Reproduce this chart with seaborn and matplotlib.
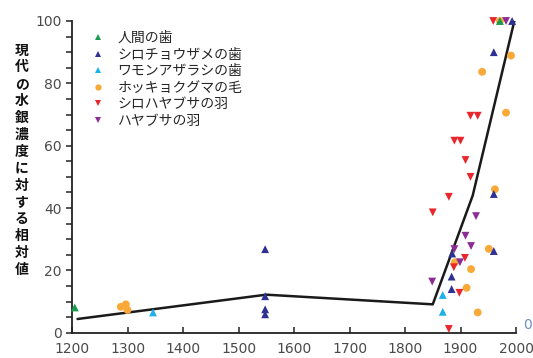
import numpy as np
import pandas as pd
import matplotlib
matplotlib.use("Agg")
import matplotlib.pyplot as plt
from matplotlib.ticker import MultipleLocator
import seaborn as sns

# --- data -------------------------------------------------------------
series_names = ["人間の歯", "シロチョウザメの歯", "ワモンアザラシの歯",
                "ホッキョクグマの毛", "シロハヤブサの羽", "ハヤブサの羽"]

human_year = [1205, 1971]
human_val = [8.1, 100]

sturgeon_year = [1548, 1548, 1548, 1548, 1884, 1884, 1885, 1960, 1960, 1960, 1993]
sturgeon_val = [26.8, 11.7, 7.5, 5.9, 18.0, 14.0, 25.4, 26.2, 44.5, 90.0, 100]

seal_year = [1346, 1868, 1868]
seal_val = [6.5, 12.1, 6.7]

bear_year = [1288, 1297, 1300, 1890, 1911, 1919, 1931, 1939, 1951, 1962, 1971, 1982, 1991]
bear_val = [8.3, 9.1, 7.3, 22.6, 14.4, 20.4, 6.5, 83.7, 26.9, 46.0, 100, 70.6, 88.9]

gyrfalcon_year = [1850, 1879, 1879, 1888, 1889, 1898, 1900, 1908, 1909, 1918, 1918, 1931, 1959]
gyrfalcon_val = [38.6, 43.6, 1.2, 21.0, 61.6, 12.8, 61.6, 24.0, 55.4, 50.0, 69.6, 69.6, 100]

peregrine_year = [1849, 1889, 1899, 1909, 1919, 1928, 1982]
peregrine_val = [16.4, 26.8, 22.6, 31.1, 27.8, 37.4, 100]

trend_year = [1210, 1550, 1850, 1922, 1997]
trend_val = [4.4, 12.2, 9.1, 44.0, 100]

x_ticks = [1200, 1300, 1400, 1500, 1600, 1700, 1800, 1900, 2000]
y_ticks = [0, 20, 40, 60, 80, 100]
y_label = "現代の水銀濃度に対する相対値"

# --- styling ----------------------------------------------------------
colors = ["#1a9a4e", "#2e3192", "#1eb0ea", "#f8a938", "#e9262b", "#8c2c95"]
markers = ["^", "^", "^", "o", "v", "v"]

sns.set_theme(style="white")
plt.rcParams["font.family"] = ["Noto Sans CJK JP", "DejaVu Sans"]

frames = []
for name, xs, ys in zip(series_names,
                        [human_year, sturgeon_year, seal_year, bear_year, gyrfalcon_year, peregrine_year],
                        [human_val, sturgeon_val, seal_val, bear_val, gyrfalcon_val, peregrine_val]):
    frames.append(pd.DataFrame({"year": xs, "value": ys, "series": name}))
# circles go underneath, triangles on top
draw_rank = {"ホッキョクグマの毛": 0}
frames.sort(key=lambda f: draw_rank.get(f["series"].iloc[0], 1))
df = pd.concat(frames, ignore_index=True)
trend = pd.DataFrame({"year": trend_year, "value": trend_val})

fig = plt.figure(figsize=(5.33, 3.58), dpi=100)
ax = fig.add_axes([72 / 533, 1 - 332.7 / 358, (516 - 72) / 533, (332.7 - 21) / 358])

sns.lineplot(data=trend, x="year", y="value", ax=ax, color="#1a1a1a",
             linewidth=1.8, zorder=2, sort=False)
sns.scatterplot(data=df, x="year", y="value", hue="series", style="series",
                hue_order=series_names, style_order=series_names,
                palette=dict(zip(series_names, colors)),
                markers=dict(zip(series_names, markers)),
                s=32, linewidth=0, ax=ax, zorder=3, clip_on=False)

ax.set_xlim(1200, 2000)
ax.set_ylim(0, 100)
ax.set_xticks(x_ticks)
ax.set_yticks(y_ticks)
ax.yaxis.set_minor_locator(MultipleLocator(5))
ax.set_xlabel("")
ax.set_ylabel("")

for side in ["top", "right"]:
    ax.spines[side].set_visible(False)
for side in ["left", "bottom"]:
    ax.spines[side].set_linewidth(1.3)
    ax.spines[side].set_color("#222222")

ax.tick_params(axis="y", which="both", direction="out", length=4.5, width=1.1,
               color="#222222", left=True, pad=3)
ax.tick_params(axis="x", which="major", direction="in", length=4.5, width=1.1,
               color="#222222", bottom=True, pad=7)
for lab in ax.get_xticklabels() + ax.get_yticklabels():
    lab.set_fontfamily("DejaVu Sans")
    lab.set_fontsize(10)
    lab.set_color("#4a4a4a")

# legend
sns.move_legend(ax, "upper left", bbox_to_anchor=(0.015, 0.985), frameon=False,
                title=None, fontsize=10, handletextpad=0.4, labelspacing=0.18,
                markerscale=0.8, borderaxespad=0)

# stacked vertical axis title
n = len(y_label)
top_c, bot_c = 50.5, 270.0
for i, ch in enumerate(y_label):
    yc = top_c + (bot_c - top_c) * i / (n - 1)
    fig.text(22 / 533, 1 - yc / 358, ch, ha="center", va="center",
             fontsize=10, fontweight="bold", color="#111111")

# lone zero at the right end of the baseline
fig.text(523 / 533, 1 - 325 / 358, "0", ha="left", va="center",
         fontsize=10, color="#6f8fc0", fontfamily="DejaVu Sans")

fig.savefig("out.png", dpi=100)
